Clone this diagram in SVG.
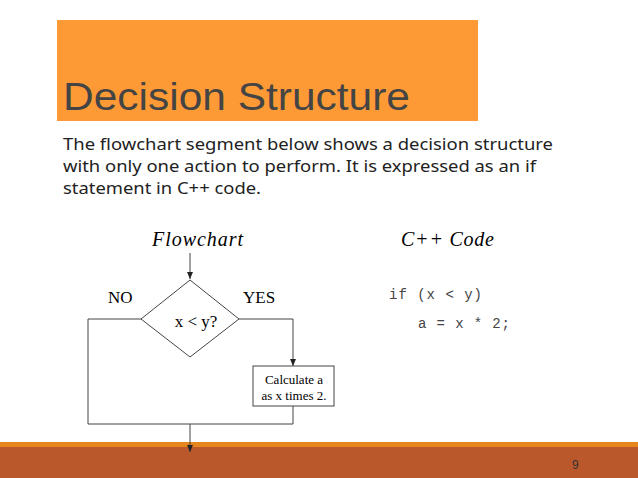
<svg xmlns="http://www.w3.org/2000/svg" width="638" height="478" viewBox="0 0 638 478">
<style>
.s{fill:none;stroke:#444;stroke-width:1}
.t{font-family:"Liberation Serif",serif;fill:#000}
.c{font-family:"Liberation Mono",monospace;font-size:14px;fill:#444}
</style>
<defs><marker id="a" markerWidth="8" markerHeight="8" refX="7" refY="4" orient="auto" markerUnits="userSpaceOnUse"><path d="M0,1L7,4L0,7z" fill="#222"/></marker></defs>
<rect width="638" height="478" fill="#fff"/>
<rect x="57" y="20" width="421" height="101" fill="#fe9a35"/>
<text x="63" y="110" font-family="Liberation Sans,sans-serif" font-size="38" fill="#444" textLength="347" lengthAdjust="spacingAndGlyphs">Decision Structure</text>
<g font-family="Noto Sans,sans-serif" font-size="16.5" fill="#222" lengthAdjust="spacingAndGlyphs">
<text x="63" y="150" textLength="490" lengthAdjust="spacingAndGlyphs">The flowchart segment below shows a decision structure</text>
<text x="63" y="172" textLength="473" lengthAdjust="spacingAndGlyphs">with only one action to perform. It is expressed as an if</text>
<text x="63" y="194" textLength="198" lengthAdjust="spacingAndGlyphs">statement in C++ code.</text>
</g>
<rect x="0" y="442" width="638" height="5" fill="#e8861e"/>
<rect x="0" y="447" width="638" height="31" fill="#bb582b"/>
<text x="572" y="469" font-family="Liberation Sans,sans-serif" font-size="12" fill="#333">9</text>
<text class="t" x="152" y="246" font-size="20" font-style="italic" textLength="91">Flowchart</text>
<text class="t" x="401" y="246" font-size="20" font-style="italic" textLength="93">C++ Code</text>
<text class="c" x="389" y="299" font-size="15" textLength="93">if (x &lt; y)</text>
<text class="c" x="418" y="328" font-size="15" textLength="92">a = x * 2;</text>
<g id="connectors">
<path class="s" d="M190,253V279" marker-end="url(#a)"/>
<path class="s" d="M141,319H88V424H293V406"/>
<path class="s" d="M239,319H293V366" marker-end="url(#a)"/>
<path class="s" d="M190,424V452" marker-end="url(#a)"/>
</g>
<text class="t" x="108" y="303" font-size="17">NO</text>
<text class="t" x="243" y="303" font-size="17">YES</text>
<g id="decision"><path d="M190,280L239,319L190,357L141,319z" fill="#fff" stroke="#444"/>
<text class="t" x="196" y="327" font-size="17" text-anchor="middle">x &lt; y?</text></g>
<g id="calc"><rect x="253" y="366" width="81" height="40" fill="#fff" stroke="#444"/>
<text class="t" x="294" y="384" font-size="13" text-anchor="middle">Calculate a</text>
<text class="t" x="294" y="400" font-size="13" text-anchor="middle">as x times 2.</text></g>
</svg>
